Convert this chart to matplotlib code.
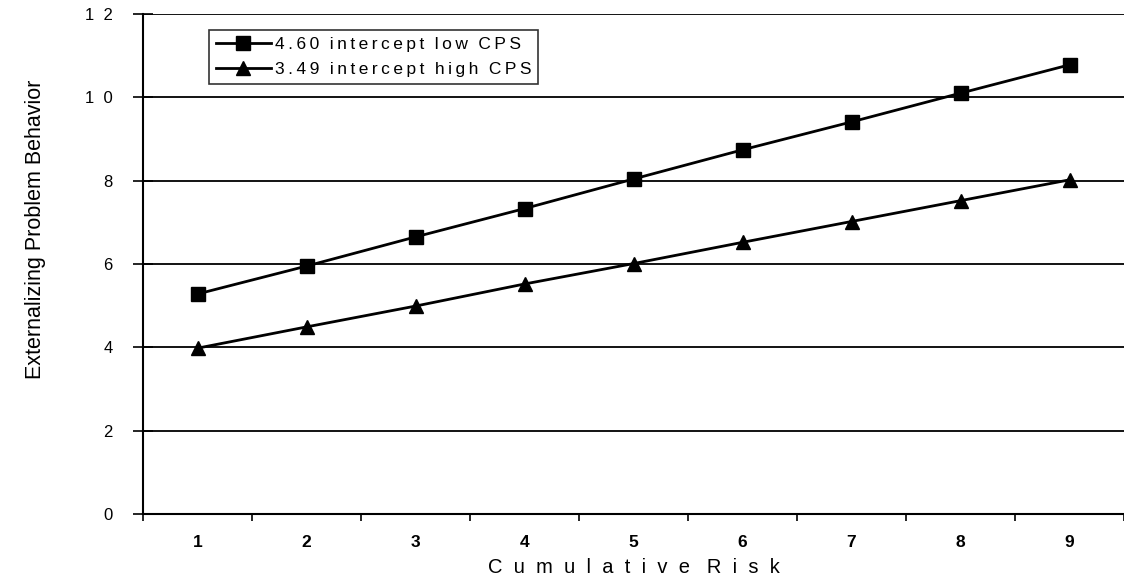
import matplotlib
matplotlib.use("Agg")
import matplotlib.pyplot as plt
import numpy as np

plt.rcParams['font.family'] = ['Liberation Sans', 'DejaVu Sans']

# datos
riesgo = [1, 2, 3, 4, 5, 6, 7, 8, 9]
cps_bajo = [5.28, 5.95, 6.65, 7.33, 8.04, 8.74, 9.41, 10.10, 10.78]
cps_alto = [3.98, 4.49, 4.99, 5.52, 6.01, 6.52, 7.02, 7.52, 8.02]
etiqueta_bajo = "4.60 intercept low CPS"
etiqueta_alto = "3.49 intercept high CPS"
y_ticks = [0, 2, 4, 6, 8, 10, 12]


def espaciado(texto, sep=" ", hueco=None):
    # el original tiene las letras muy separadas
    if hueco is None:
        hueco = sep * 3
    palabras = texto.split(" ")
    return hueco.join(sep.join(p) for p in palabras)


fig = plt.figure(figsize=(11.24, 5.84), dpi=100)
ax = fig.add_axes([143 / 1124, 70 / 584, 981 / 1124, 500 / 584])

ax.plot(riesgo, cps_bajo, color='black', lw=2.0, marker='s', markersize=9.5,
        label=espaciado(etiqueta_bajo, "\u2009"))
ax.plot(riesgo, cps_alto, color='black', lw=2.0, marker='^', markersize=10,
        label=espaciado(etiqueta_alto, "\u2009"))

ax.set_xlim(0.5, 9.5)
ax.set_ylim(0, 12)

# grilla horizontal
for v in y_ticks[1:]:
    ax.axhline(v, color='black', lw=1.3, zorder=0)

ax.set_yticks(y_ticks)
ax.set_yticklabels([espaciado(str(v), "  ") for v in y_ticks], fontsize=12)
ax.tick_params(axis='y', direction='inout', length=14, width=1.2, pad=15)

ax.set_xticks(riesgo)
ax.set_xticklabels([str(r) for r in riesgo], fontsize=12.5, fontweight='bold')
ax.set_xticks(np.arange(0.5, 9.6, 1), minor=True)
ax.tick_params(axis='x', which='major', length=0, pad=15)
ax.tick_params(axis='x', which='minor', direction='out', length=5, width=1.2)

for lado in ['top', 'right']:
    ax.spines[lado].set_visible(False)
ax.spines['left'].set_linewidth(1.5)
ax.spines['bottom'].set_linewidth(1.5)

ax.set_xlabel(espaciado("Cumulative Risk", "  ", "   "), fontsize=14.5, labelpad=6)
ax.set_ylabel("Externalizing Problem Behavior", fontsize=15.5)
ax.yaxis.set_label_coords(-0.099, 0.57)

leg = ax.legend(loc='upper left', bbox_to_anchor=(0.067, 0.968), borderaxespad=0,
                fontsize=12.5, frameon=True, fancybox=False, handlelength=3.2,
                handletextpad=0.2, borderpad=0.4, labelspacing=0.55)
leg.get_frame().set_edgecolor('black')
leg.get_frame().set_linewidth(1.2)

fig.savefig("out.png", dpi=100, facecolor='white')
